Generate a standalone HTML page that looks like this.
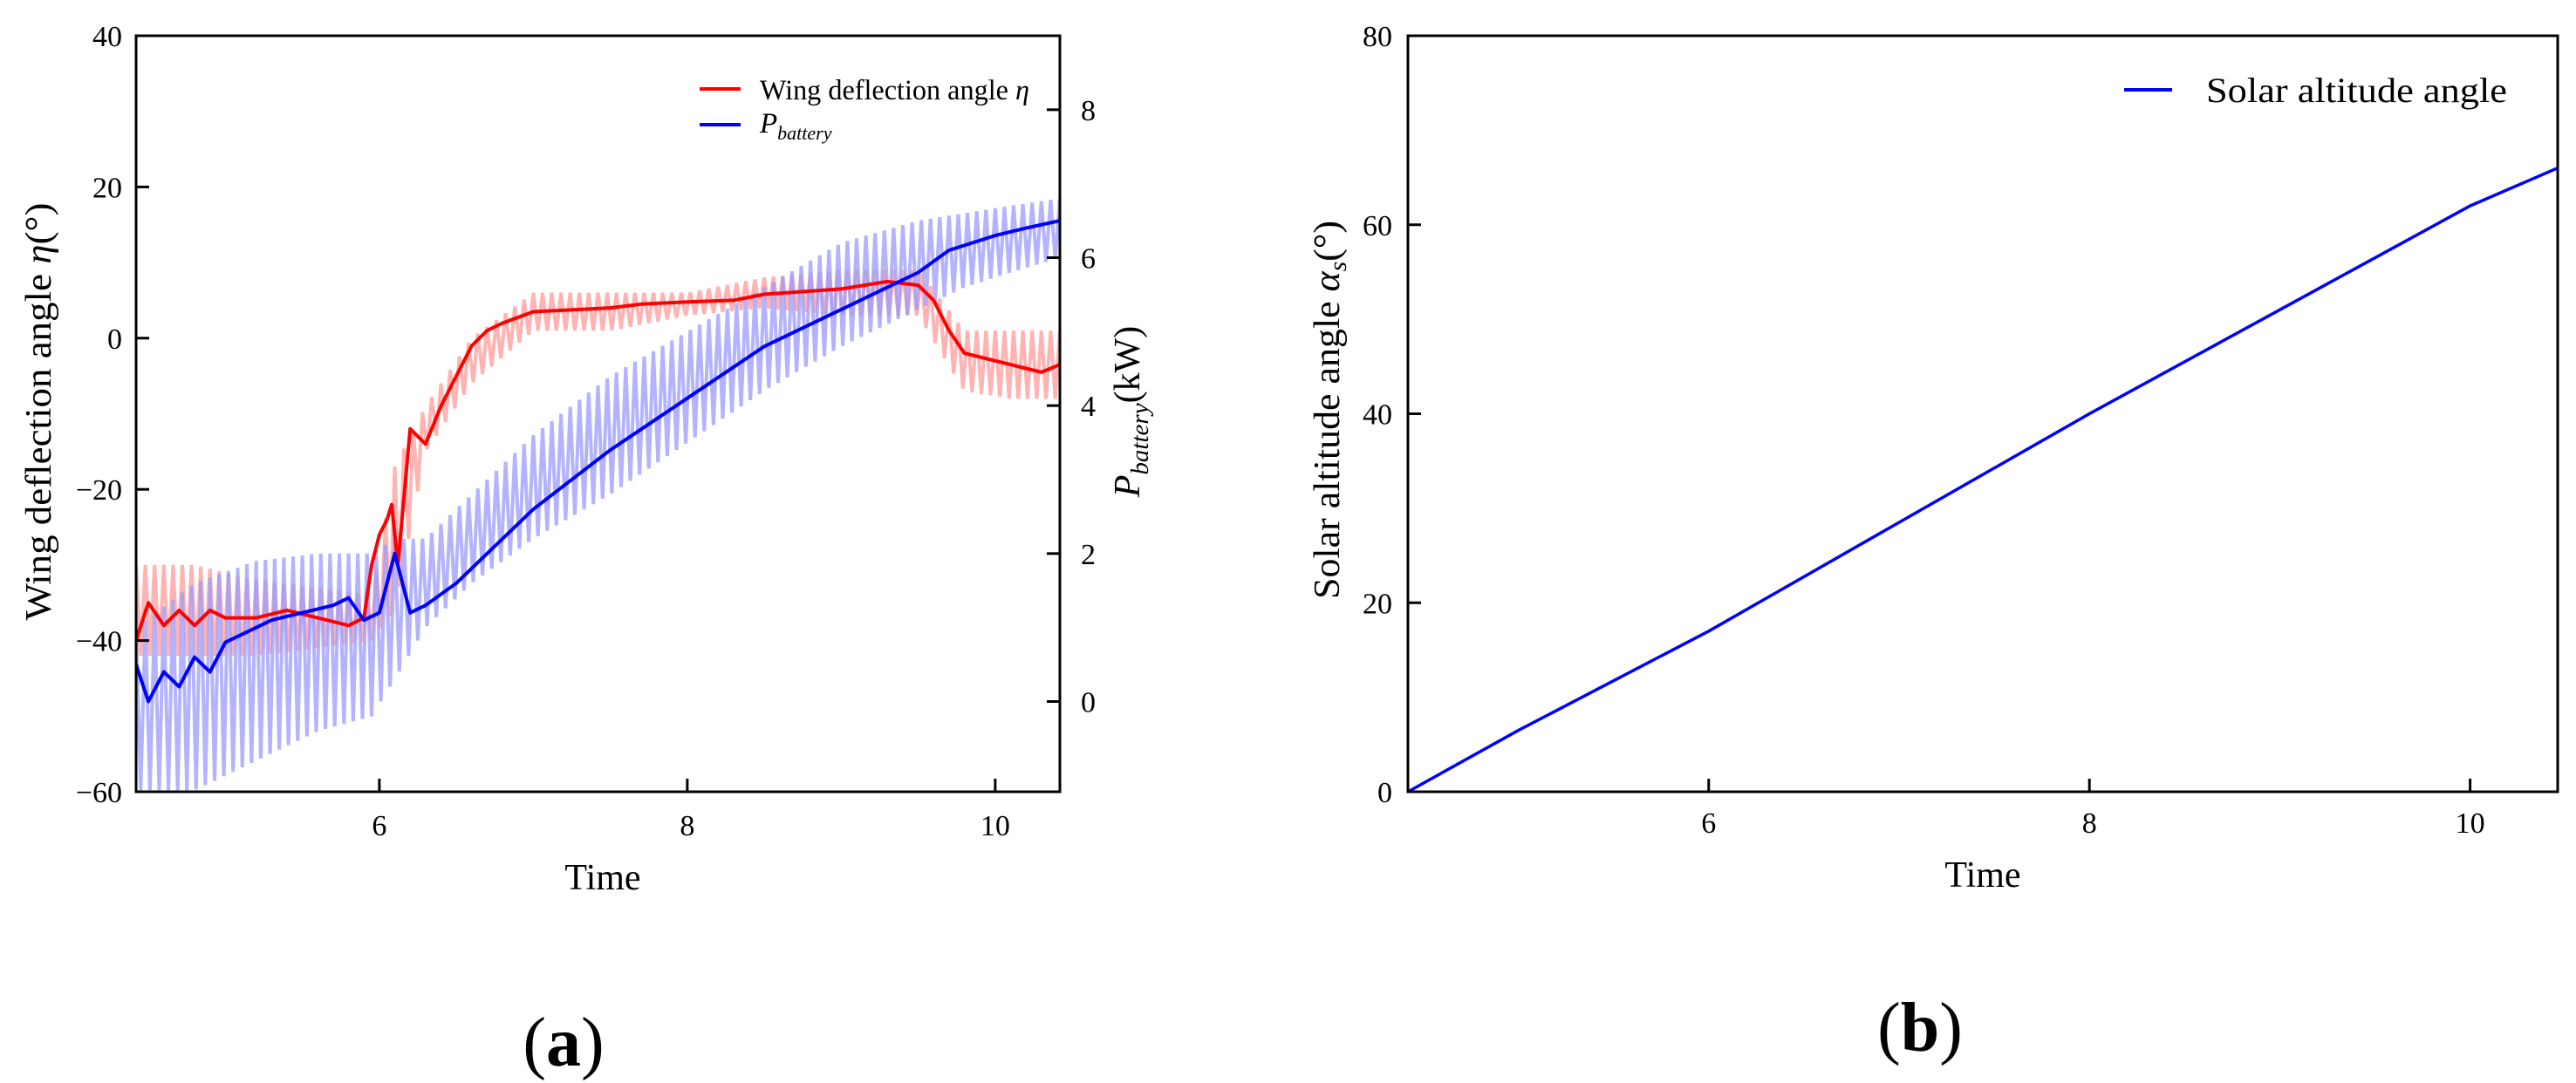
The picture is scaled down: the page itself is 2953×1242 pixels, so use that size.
<!DOCTYPE html>
<html><head><meta charset="utf-8"><style>
html,body{margin:0;padding:0;background:#fff;}
svg{display:block;font-family:"Liberation Serif",serif;}
</style></head><body>
<svg id="fig" width="2953" height="1242" viewBox="0 0 2953 1242" xmlns="http://www.w3.org/2000/svg">
<g id="ga"></g>
<g id="gb"></g>
</svg>
<script>
// ---- Chart (a) data ----
const etaTimes = [4.42,4.5,4.6,4.7,4.8,4.9,5.0,5.2,5.4,5.6,5.8,5.9,5.95,6.0,6.05,6.08,6.12,6.2,6.3,6.4,6.5,6.6,6.7,6.8,7.0,7.5,7.7,8.0,8.3,8.5,9.0,9.3,9.5,9.6,9.7,9.8,10.0,10.2,10.3,10.42];
const etaValues = [-40,-35,-38,-36,-38,-36,-37,-37,-36,-37,-38,-37,-30,-26,-24,-22,-30,-12,-14,-9,-5,-1,1,2,3.5,4,4.5,4.8,5,5.8,6.5,7.5,7,5,1,-2,-3,-4,-4.5,-3.5];
const pTimes = [4.42,4.5,4.6,4.7,4.8,4.9,5.0,5.1,5.2,5.3,5.5,5.7,5.8,5.9,6.0,6.1,6.2,6.3,6.5,6.7,7.0,7.5,8.0,8.5,9.0,9.5,9.7,10.0,10.2,10.42];
const pValues = [0.5,0.0,0.4,0.2,0.6,0.4,0.8,0.9,1.0,1.1,1.2,1.3,1.4,1.1,1.2,2.0,1.2,1.3,1.6,2.0,2.6,3.4,4.1,4.8,5.3,5.8,6.1,6.3,6.4,6.5];
const envTimes = [4.42,4.8,5.2,5.6,5.95,6.1,6.3,6.6,7.0,7.5,8.0,8.5,9.0,9.5,9.8,10.1,10.42];
const etaHi = [-30,-30,-32,-33,-34,-17,-9,0,6,6,6,8,9,9,1,1,1];
const etaLo = [-42,-42,-42,-41,-40,-36,-15,-6,1,1,3,4,3,3,-7,-8,-8];
const pHi = [1.0,1.6,1.9,2.0,2.0,2.2,2.2,2.8,3.6,4.4,5.0,5.6,6.2,6.5,6.6,6.7,6.8];
const pLo = [-1.2,-1.2,-0.8,-0.4,-0.2,0.3,1.0,1.6,2.2,2.8,3.5,4.2,4.8,5.3,5.6,5.8,6.0];
const xTicksA = [6,8,10];
const yTicksA = [40,20,0,-20,-40,-60];
const y2TicksA = [0,2,4,6,8];
// ---- Chart (b) data ----
const solarTimes = [4.42,5.0,6.0,7.0,8.0,9.0,10.0,10.46];
const solarValues = [0,6.5,17,28.5,40,51,62,66];
const xTicksB = [6,8,10];
const yTicksB = [0,20,40,60,80];

const NS="http://www.w3.org/2000/svg";
function mk(parent,tag,attrs,text){const e=document.createElementNS(NS,tag);for(const k in attrs)e.setAttribute(k,attrs[k]);if(text!==undefined)e.textContent=text;parent.appendChild(e);return e;}
function interp(ts,vs,t){if(t<=ts[0])return vs[0];for(let i=1;i<ts.length;i++){if(t<=ts[i]){const f=(t-ts[i-1])/(ts[i]-ts[i-1]);return vs[i-1]+f*(vs[i]-vs[i-1]);}}return vs[vs.length-1];}

// ===== Chart A =====
const ga=document.getElementById('ga');
const A={l:156,r:1215,t:41,b:908,x0:4.42,x1:10.42,y0:-60,y1:40,z0:-1.22,z1:9.0};
const xA=t=>A.l+(t-A.x0)/(A.x1-A.x0)*(A.r-A.l);
const yA=v=>A.b-(v-A.y0)/(A.y1-A.y0)*(A.b-A.t);
const zA=v=>A.b-(v-A.z0)/(A.z1-A.z0)*(A.b-A.t);
mk(ga,'clipPath',{id:'clipA'});
mk(document.getElementById('clipA'),'rect',{x:A.l,y:A.t,width:A.r-A.l,height:A.b-A.t});
const period=0.06;
function zig(hiArr,loArr,scale){let d='';let k=0;for(let t=A.x0;t<=A.x1+1e-9;t+=period/2,k++){const v=(k%2===0)?interp(envTimes,hiArr,t):interp(envTimes,loArr,t);d+=(k===0?'M':'L')+xA(t).toFixed(1)+','+scale(v).toFixed(1);}return d;}
const pe=mk(ga,'path',{d:zig(etaHi,etaLo,yA),fill:'none',stroke:'#ff9999','stroke-width':4,opacity:0.75,'clip-path':'url(#clipA)'});


const pp=mk(ga,'path',{d:zig(pHi,pLo,zA),fill:'none',stroke:'#9999ff','stroke-width':4,opacity:0.75,'clip-path':'url(#clipA)'});


const le=mk(ga,'path',{d:etaTimes.map((t,i)=>(i?'L':'M')+xA(t).toFixed(1)+','+yA(etaValues[i]).toFixed(1)).join(''),fill:'none',stroke:'#ff0000','stroke-width':4,'stroke-linejoin':'round','clip-path':'url(#clipA)'});


const lp=mk(ga,'path',{d:pTimes.map((t,i)=>(i?'L':'M')+xA(t).toFixed(1)+','+zA(pValues[i]).toFixed(1)).join(''),fill:'none',stroke:'#0000ff','stroke-width':4,'stroke-linejoin':'round','clip-path':'url(#clipA)'});


const fa=mk(ga,'rect',{x:A.l,y:A.t,width:A.r-A.l,height:A.b-A.t,fill:'none',stroke:'#000','stroke-width':3});


xTicksA.forEach(v=>{const x=xA(v);mk(ga,'line',{x1:x,x2:x,y1:A.b,y2:A.b-15,stroke:'#000','stroke-width':3});
 const tl=mk(ga,'text',{x:x,y:A.b+50,'font-size':34,'text-anchor':'middle'},String(v));
 
 });
yTicksA.forEach(v=>{const y=yA(v);mk(ga,'line',{x1:A.l,x2:A.l+15,y1:y,y2:y,stroke:'#000','stroke-width':3});
 const tl=mk(ga,'text',{x:A.l-16,y:y+12,'font-size':34,'text-anchor':'end'},v<0?'\u2212'+(-v):String(v));
 
 });
y2TicksA.forEach(v=>{const y=zA(v);mk(ga,'line',{x1:A.r,x2:A.r-15,y1:y,y2:y,stroke:'#000','stroke-width':3});
 const tl=mk(ga,'text',{x:A.r+24,y:y+12,'font-size':34,'text-anchor':'start'},String(v));
 
 });
</script>
<script>
(function(){
const ga=document.getElementById('ga');
ga.insertAdjacentHTML('beforeend',
'<text x="691" y="1020" font-size="42" text-anchor="middle">Time</text>'+
'<text transform="translate(58,472) rotate(-90)" font-size="42" text-anchor="middle" textLength="479" lengthAdjust="spacingAndGlyphs">Wing deflection angle <tspan font-style="italic">η</tspan>(°)</text>'+
'<text transform="translate(1306,472) rotate(-90)" font-size="42" text-anchor="middle"><tspan font-style="italic">P</tspan><tspan font-style="italic" font-size="29" dy="10">battery</tspan><tspan dy="-10">(kW)</tspan></text>'+
'<g>'+
'<line x1="802" x2="849" y1="102" y2="102" stroke="#ff0000" stroke-width="4"/>'+
'<text x="871" y="114" font-size="33" textLength="309" lengthAdjust="spacingAndGlyphs">Wing deflection angle <tspan font-style="italic">η</tspan></text>'+
'<line x1="802" x2="849" y1="143" y2="143" stroke="#0000ff" stroke-width="4"/>'+
'<text x="871" y="152" font-size="33"><tspan font-style="italic">P</tspan><tspan font-style="italic" font-size="22" dy="8">battery</tspan></text>'+
'</g>'+
'<text x="646" y="1222" font-size="80" text-anchor="middle">(<tspan font-weight="bold">a</tspan>)</text>');
})();
</script>
<script>
// ===== Chart B =====
(function(){
const gb=document.getElementById('gb');
const B={l:1614,r:2932,t:41,b:908,x0:4.42,x1:10.46,y0:0,y1:80};
const xB=t=>B.l+(t-B.x0)/(B.x1-B.x0)*(B.r-B.l);
const yB=v=>B.b-(v-B.y0)/(B.y1-B.y0)*(B.b-B.t);
const ls=mk(gb,'path',{d:solarTimes.map((t,i)=>(i?'L':'M')+xB(t).toFixed(1)+','+yB(solarValues[i]).toFixed(1)).join(''),fill:'none',stroke:'#0000ff','stroke-width':3.5});


const fb=mk(gb,'rect',{x:B.l,y:B.t,width:B.r-B.l,height:B.b-B.t,fill:'none',stroke:'#000','stroke-width':3});


xTicksB.forEach(v=>{const x=xB(v);mk(gb,'line',{x1:x,x2:x,y1:B.b,y2:B.b-15,stroke:'#000','stroke-width':3});
 const tl=mk(gb,'text',{x:x,y:B.b+47,'font-size':34,'text-anchor':'middle'},String(v));
 
 });
yTicksB.forEach(v=>{const y=yB(v);mk(gb,'line',{x1:B.l,x2:B.l+15,y1:y,y2:y,stroke:'#000','stroke-width':3});
 const tl=mk(gb,'text',{x:B.l-18,y:y+12,'font-size':34,'text-anchor':'end'},String(v));
 
 });
gb.insertAdjacentHTML('beforeend',
'<text x="2273" y="1017" font-size="42" text-anchor="middle">Time</text>'+
'<text transform="translate(1535,470) rotate(-90)" font-size="42" text-anchor="middle" textLength="434" lengthAdjust="spacingAndGlyphs">Solar altitude angle <tspan font-style="italic">α</tspan><tspan font-style="italic" font-size="28" dy="8">s</tspan><tspan dy="-8">(°)</tspan></text>'+
'<g>'+
'<line x1="2435" x2="2490" y1="103" y2="103" stroke="#0000ff" stroke-width="4"/>'+
'<text x="2529" y="117" font-size="40" textLength="345" lengthAdjust="spacingAndGlyphs">Solar altitude angle</text>'+
'</g>'+
'<text x="2201" y="1205" font-size="80" text-anchor="middle">(<tspan font-weight="bold">b</tspan>)</text>');
})();
</script>
</body></html>
